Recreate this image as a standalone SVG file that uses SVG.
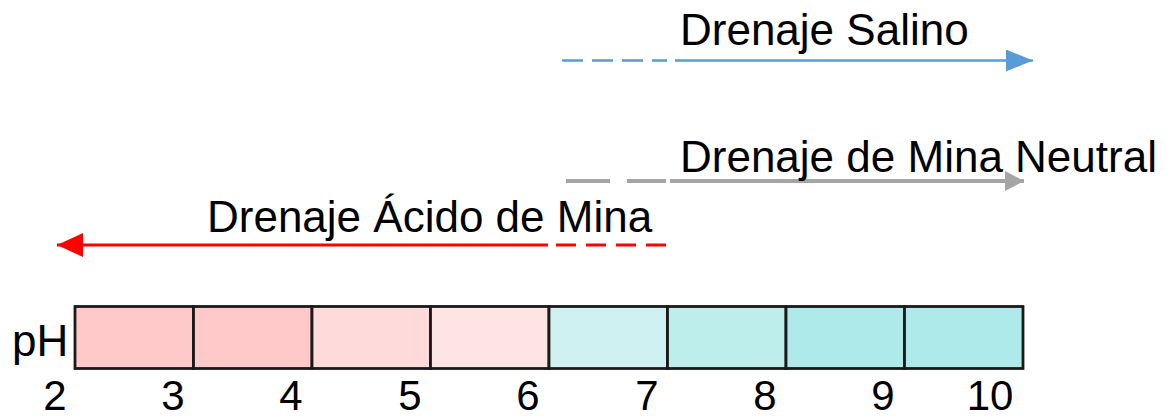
<svg xmlns="http://www.w3.org/2000/svg" width="1167" height="419" viewBox="0 0 1167 419">
  <style>
    text { font-family: "Liberation Sans", Arial, sans-serif; font-size: 44px; fill: #000; }
    .num { text-anchor: middle; font-size: 42px; }
    .cell { stroke: #1a1a1a; stroke-width: 2.8; }
  </style>
  <defs>
    <marker id="ahBlue" markerUnits="userSpaceOnUse" markerWidth="28" markerHeight="24" refX="27" refY="11" orient="auto">
      <path d="M0,0 L27,11 L0,22 Z" fill="#5B9BD5"/>
    </marker>
    <marker id="ahGray" markerUnits="userSpaceOnUse" markerWidth="28" markerHeight="24" refX="19" refY="10" orient="auto">
      <path d="M0,0 L19,10 L0,20 Z" fill="#A5A5A5"/>
    </marker>
    <marker id="ahRed" markerUnits="userSpaceOnUse" markerWidth="28" markerHeight="26" refX="26" refY="12" orient="auto">
      <path d="M0,0 L26,12 L0,24 Z" fill="#FF0000"/>
    </marker>
  </defs>

  <g id="connectors">
    <line x1="562" y1="60.5" x2="667" y2="60.5" stroke="#5B9BD5" stroke-width="2.5" stroke-dasharray="21 9"/>
    <line x1="675" y1="60.5" x2="1033" y2="60.5" stroke="#5B9BD5" stroke-width="2.5" marker-end="url(#ahBlue)"/>
    <line x1="566" y1="181" x2="666" y2="181" stroke="#A5A5A5" stroke-width="4" stroke-dasharray="44 17"/>
    <line x1="670" y1="181" x2="1024" y2="181" stroke="#A5A5A5" stroke-width="4" marker-end="url(#ahGray)"/>
    <line x1="548" y1="245" x2="57" y2="245" stroke="#FF0000" stroke-width="3" marker-end="url(#ahRed)"/>
    <line x1="556" y1="245" x2="666" y2="245" stroke="#FF0000" stroke-width="3" stroke-dasharray="20 10"/>
  </g>

  <g id="label-salino"><text x="680" y="45">Drenaje Salino</text></g>
  <g id="label-neutral"><text x="680" y="172">Drenaje de Mina Neutral</text></g>
  <g id="label-acido"><text x="207" y="232">Drenaje Ácido de Mina</text></g>

  <g id="ph-scale">
    <text x="12" y="356">pH</text>
    <rect class="cell" x="75" y="306.5" width="118.5" height="62" fill="#FFC9C9"/>
    <rect class="cell" x="193.5" y="306.5" width="118.5" height="62" fill="#FFC9C9"/>
    <rect class="cell" x="312" y="306.5" width="118.5" height="62" fill="#FFDADA"/>
    <rect class="cell" x="430.5" y="306.5" width="118.5" height="62" fill="#FFE4E4"/>
    <rect class="cell" x="549" y="306.5" width="118.5" height="62" fill="#CFF1F1"/>
    <rect class="cell" x="667.5" y="306.5" width="118.5" height="62" fill="#BDEEEC"/>
    <rect class="cell" x="786" y="306.5" width="118.5" height="62" fill="#AEEAE9"/>
    <rect class="cell" x="904.5" y="306.5" width="118.5" height="62" fill="#AEEAE9"/>
    <text class="num" x="55" y="410">2</text>
    <text class="num" x="173" y="410">3</text>
    <text class="num" x="291" y="410">4</text>
    <text class="num" x="410" y="410">5</text>
    <text class="num" x="528" y="410">6</text>
    <text class="num" x="647" y="410">7</text>
    <text class="num" x="765" y="410">8</text>
    <text class="num" x="883" y="410">9</text>
    <text class="num" x="990" y="410">10</text>
  </g>
</svg>
